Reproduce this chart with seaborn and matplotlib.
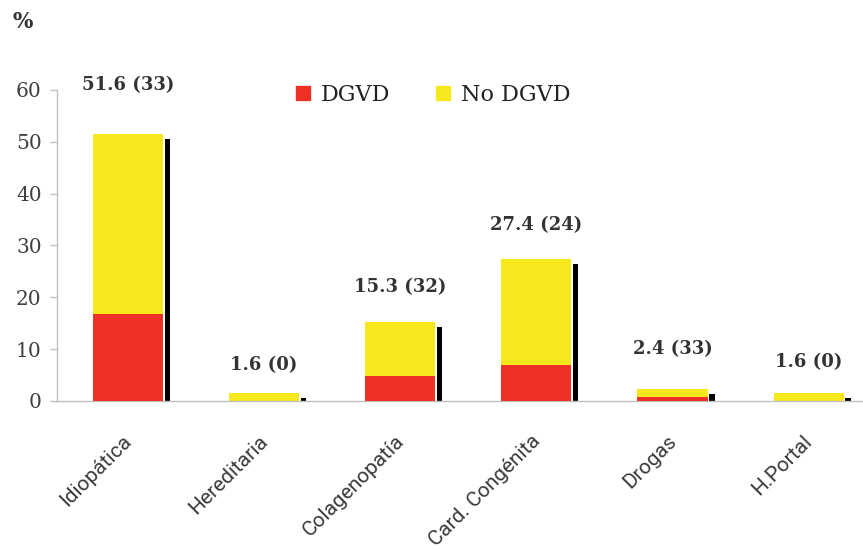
import matplotlib
matplotlib.use("Agg")
import matplotlib.pyplot as plt
import matplotlib.transforms as mtransforms
from matplotlib.lines import Line2D
import numpy as np
import pandas as pd
import seaborn as sns

# Data
categories = ["Idiopática", "Hereditaria", "Colagenopatía", "Card. Congénita", "Drogas", "H.Portal"]
total_pct = [51.6, 1.6, 15.3, 27.4, 2.4, 1.6]      # total % per etiology
dgvd_pct = [16.8, 0.0, 4.8, 7.0, 0.8, 0.0]         # DGVD share (red segment)
dgvd_rel = [33, 0, 32, 24, 33, 0]                  # % with DGVD within group
label_offset = [9.4, 5.4, 6.7, 6.6, 7.6, 5.9]      # label height above bar top

RED = "#EE3124"
YELLOW = "#F6E81C"

sns.set_theme(style="white")
plt.rcParams["font.family"] = ["DejaVu Serif"]

df = pd.DataFrame({"cat": categories, "total": total_pct, "dgvd": dgvd_pct})

fig = plt.figure(figsize=(8.63, 5.5), dpi=100)
ax = fig.add_axes([57 / 863, (550 - 401) / 550, 1 - 57 / 863, (401 - 90) / 550])

bw = 0.515
x = np.arange(len(categories))

# drop shadow to the right of each bar
ax.bar(x + bw / 2 + 0.012 + 0.02, np.array(total_pct) - 1.0, width=0.04,
       color="black", zorder=1, linewidth=0)

sns.barplot(data=df, x="cat", y="total", color=YELLOW, width=bw, ax=ax,
            saturation=1, zorder=2, linewidth=0)
sns.barplot(data=df, x="cat", y="dgvd", color=RED, width=bw, ax=ax,
            saturation=1, zorder=3, linewidth=0)

for i, (t, r, off) in enumerate(zip(total_pct, dgvd_rel, label_offset)):
    ax.text(i, t + off, f"{t:.1f} ({r})", ha="center", va="center",
            fontsize=13, fontweight="bold", color="#333333", zorder=5)

ax.set_ylim(0, 60)
ax.set_xlim(-0.522, 5.40)
ax.set_yticks([0, 10, 20, 30, 40, 50, 60])
ax.set_xlabel("")
ax.set_ylabel("")

for s in ["top", "right"]:
    ax.spines[s].set_visible(False)
for s in ["left", "bottom"]:
    ax.spines[s].set_color("#BFBFBF")
    ax.spines[s].set_linewidth(1.0)

ax.tick_params(axis="y", which="both", left=True, length=5, width=1.0,
               color="#BFBFBF", labelsize=14.5, labelcolor="#404040", pad=6)
ax.tick_params(axis="x", which="both", bottom=False, pad=16)
ax.set_xticks(x)
ax.set_xticklabels(categories, rotation=45, ha="right", va="top", rotation_mode="anchor",
                   fontsize=15, color="#3a3a3a", family=["Roboto", "DejaVu Sans"])
shift = mtransforms.ScaledTranslation(-6 / 100, 0, fig.dpi_scale_trans)
for lbl in ax.get_xticklabels():
    lbl.set_transform(lbl.get_transform() + shift)

fig.text(12 / 863, 1 - 22 / 550, "%", fontsize=15.5, fontweight="bold",
         color="#333333", va="center", ha="left")

handles = [
    Line2D([], [], marker="s", linestyle="none", markersize=10,
           markerfacecolor=RED, markeredgecolor=RED, label="DGVD"),
    Line2D([], [], marker="s", linestyle="none", markersize=10,
           markerfacecolor=YELLOW, markeredgecolor=YELLOW, label="No DGVD"),
]
fig.legend(handles=handles, loc="center left", bbox_to_anchor=(294 / 863, 1 - 95 / 550),
           ncol=2, frameon=False, fontsize=16, handlelength=0.8, handletextpad=0.4,
           columnspacing=2.0, borderpad=0, borderaxespad=0, labelcolor="#222222")

fig.savefig("out.png", dpi=100)
